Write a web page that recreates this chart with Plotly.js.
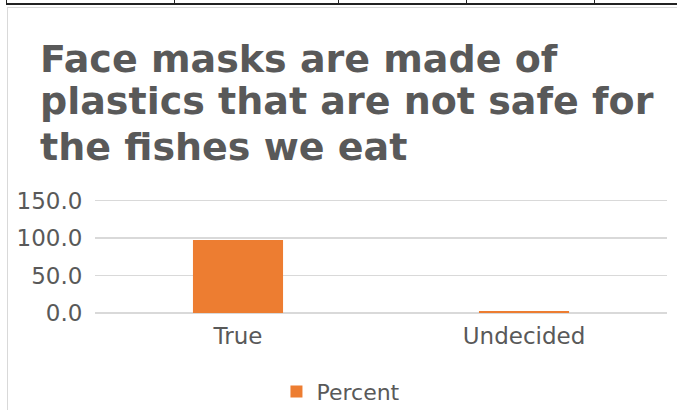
<!DOCTYPE html>
<html>
<head>
<meta charset="utf-8">
<script src="https://cdn.plot.ly/plotly-3.0.1.min.js"></script>
<style>
html,body{margin:0;padding:0;background:#fff;overflow:hidden;}
#chart{position:absolute;left:0;top:0;width:677px;height:410px;}
.dec{position:absolute;pointer-events:none;}
</style>
</head>
<body>
<div id="chart"></div>
<!-- table fragment above the chart -->
<div class="dec" style="left:6px;top:3px;width:671px;height:2px;background:#222;"></div>
<div class="dec" style="left:6px;top:0;width:1px;height:5px;background:#222;"></div>
<div class="dec" style="left:174px;top:0;width:1px;height:5px;background:#222;"></div>
<div class="dec" style="left:338px;top:0;width:1px;height:5px;background:#222;"></div>
<div class="dec" style="left:466px;top:0;width:1px;height:5px;background:#222;"></div>
<div class="dec" style="left:594px;top:0;width:1px;height:5px;background:#222;"></div>
<!-- chart frame -->
<div class="dec" style="left:7px;top:7px;width:670px;height:1px;background:#d9d9d9;"></div>
<div class="dec" style="left:7px;top:7px;width:1px;height:403px;background:#d9d9d9;"></div>
<script>
const categories = ['True', 'Undecided'];
const percent = [97.2, 2.8];
const seriesName = 'Percent';
const tickVals = [0, 50, 100, 150];
const tickText = ['0.0', '50.0', '100.0', '150.0'];
const titleLines = ['Face masks are made of', 'plastics that are not safe for', 'the fishes we eat'];

const grey = '#595959';
const H = 410;
const mTop = 199.2, mBot = 97.3;
const plotH = H - mTop - mBot;
const plotBottom = H - mBot;
const py = px => (plotBottom - px) / plotH;   // pixel row -> paper y

const titleMid = [60, 102, 147];
const annotations = titleLines.map((t, i) => ({
  text: '<b>' + t + '</b>',
  xref: 'paper', yref: 'paper',
  x: (38 - 95) / 572, xanchor: 'left',
  y: py(titleMid[i]), yanchor: 'middle',
  showarrow: false,
  font: {family: 'DejaVu Sans', size: 38, color: grey}
}));

const trace = {
  type: 'bar',
  x: categories,
  y: percent,
  name: seriesName,
  marker: {color: '#ED7D31'},
  showlegend: true,
  hoverinfo: 'none'
};
const layout = {
  width: 677, height: H,
  paper_bgcolor: '#ffffff', plot_bgcolor: '#ffffff',
  margin: {l: 95, r: 10, t: mTop, b: mBot, autoexpand: false},
  font: {family: 'DejaVu Sans', color: grey},
  annotations: annotations,
  bargap: 0.685,
  xaxis: {
    type: 'category',
    showgrid: false, zeroline: false, showline: false,
    ticks: '', ticklabelstandoff: 7, automargin: false,
    tickfont: {size: 23, color: grey},
    fixedrange: true
  },
  yaxis: {
    range: [0, 152],
    tickvals: tickVals, ticktext: tickText,
    showgrid: true, gridcolor: '#d9d9d9', gridwidth: 1.3,
    zeroline: true, zerolinecolor: '#d9d9d9', zerolinewidth: 1.3,
    showline: false, ticks: 'outside', ticklen: 7, tickcolor: 'rgba(0,0,0,0)',
    automargin: false,
    tickfont: {size: 23, color: grey},
    fixedrange: true
  },
  showlegend: true,
  legend: {
    orientation: 'h',
    x: 0.43, xanchor: 'center',
    y: py(391), yanchor: 'middle',
    font: {size: 22, color: grey},
    bgcolor: 'rgba(0,0,0,0)'
  }
};
Plotly.newPlot('chart', [trace], layout, {displayModeBar: false, staticPlot: true});
</script>
</body>
</html>
